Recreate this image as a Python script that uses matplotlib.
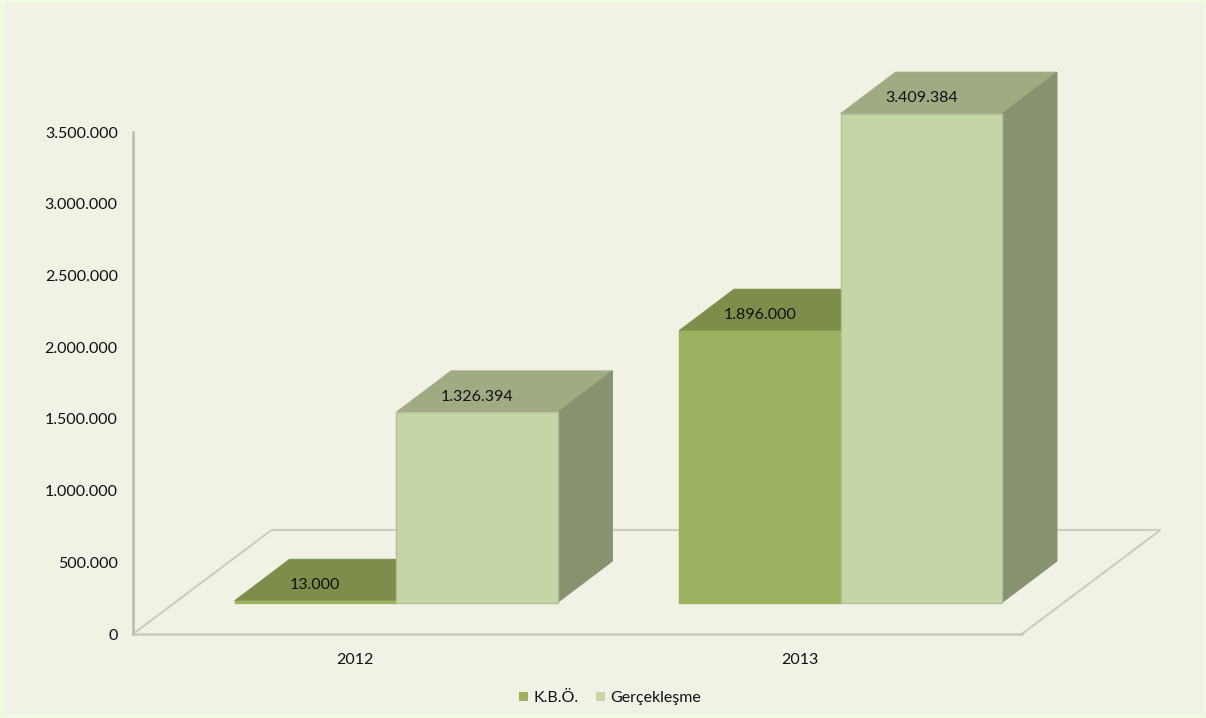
import matplotlib
matplotlib.use("Agg")
import matplotlib.pyplot as plt
from matplotlib.patches import Polygon, Rectangle

categories = ["2012", "2013"]
kbo = [13000, 1896000]
gerceklesme = [1326394, 3409384]
yticks = [0, 500000, 1000000, 1500000, 2000000, 2500000, 3000000, 3500000]
series_names = ["K.B.Ö.", "Gerçekleşme"]

W, H = 1206, 718
FS = 11.5
plt.rcParams['font.family'] = ['Lato', 'DejaVu Sans']
fig = plt.figure(figsize=(W / 100, H / 100), dpi=100, facecolor="#effae0")
fig.add_artist(Rectangle((5 / W, 3 / H), (W - 7) / W, (H - 6) / H, transform=fig.transFigure,
                         facecolor="#eff2e4", edgecolor="none", zorder=-10))

ax = fig.add_axes([133 / W, (H - 634) / H, (1022 - 133) / W, (634 - 132) / H])
ax.patch.set_alpha(0)
ax.set_xlim(-0.5, 1.5)
ax.set_ylim(0, 3500000)

# 3D projection constants (in data units)
FLOOR_DX, FLOOR_DY = 0.3116, 725100
BAR_DX, BAR_DY = 0.1237, 289300
BASE_DY = 219000
WIDTH = 0.3633
LINE = "#cbcdc1"

# floor
ax.plot([-0.5, -0.5 + FLOOR_DX, 1.5 + FLOOR_DX, 1.5],
        [0, FLOOR_DY, FLOOR_DY, 0], color=LINE, lw=1.5, clip_on=False, zorder=1,
        solid_joinstyle="miter")
ax.plot([-0.5, 1.5], [0, 0], color=LINE, lw=1.9, clip_on=False, zorder=1)
ax.plot([-0.5, -0.5], [0, 3500000], color="#bcbeb2", lw=1.9, clip_on=False, zorder=2)

for s in ax.spines.values():
    s.set_visible(False)

styles = [
    dict(face="#9bb15f", top="#7d8e4a", side="#6f7f42", edge="#9bb15f"),
    dict(face="#c6d5a5", top="#a0ab84", side="#87926f", edge="#b3c294"),
]
for i, cat in enumerate(categories):
    for j, vals in enumerate([kbo, gerceklesme]):
        st = styles[j]
        left = i - 0.2715 + j * WIDTH
        v = vals[i]
        bx0, bx1 = left, left + WIDTH
        y0, y1 = BASE_DY, BASE_DY + v
        z = 3 + i * 4 + j * 3
        ax.add_patch(Polygon([(bx0, y1), (bx1, y1), (bx1 + BAR_DX, y1 + BAR_DY), (bx0 + BAR_DX, y1 + BAR_DY)],
                             closed=True, facecolor=st["top"], edgecolor=st["top"], lw=0.6,
                             clip_on=False, zorder=z))
        ax.add_patch(Polygon([(bx1, y0), (bx1, y1), (bx1 + BAR_DX, y1 + BAR_DY), (bx1 + BAR_DX, y0 + BAR_DY)],
                             closed=True, facecolor=st["side"], edgecolor=st["side"], lw=0.6,
                             clip_on=False, zorder=z))
        ax.bar(left, v, WIDTH, bottom=BASE_DY, align="edge", color=st["face"],
               edgecolor=st["edge"], linewidth=1.0, clip_on=False, zorder=z + 1)
        txt = f"{v:,}".replace(",", ".")
        ax.annotate(txt, (left + WIDTH / 2, y1), xytext=(0, 11), textcoords="offset points",
                    ha="center", va="center", fontsize=FS, color="#111111", zorder=20,
                    annotation_clip=False)

ax.set_yticks(yticks)
ax.set_yticklabels([f"{t:,}".replace(",", ".") for t in yticks], fontsize=FS, color="#111111",
                   va="center_baseline")
ax.tick_params(axis="y", length=0, pad=11)
ax.set_xticks([0, 1])
ax.set_xticklabels(categories, fontsize=FS, color="#111111")
ax.tick_params(axis="x", length=0, pad=14)

handles = [Rectangle((0, 0), 1, 1, facecolor=styles[k]["face"]) for k in range(2)]
fig.legend(handles, series_names, loc="center", bbox_to_anchor=(610 / W, (H - 698) / H), ncol=2,
           frameon=False, fontsize=FS, handlelength=0.55, handleheight=0.55,
           handletextpad=0.35, columnspacing=1.1, labelcolor="#111111", borderpad=0)

fig.savefig("out.png", dpi=100, facecolor=fig.get_facecolor())
